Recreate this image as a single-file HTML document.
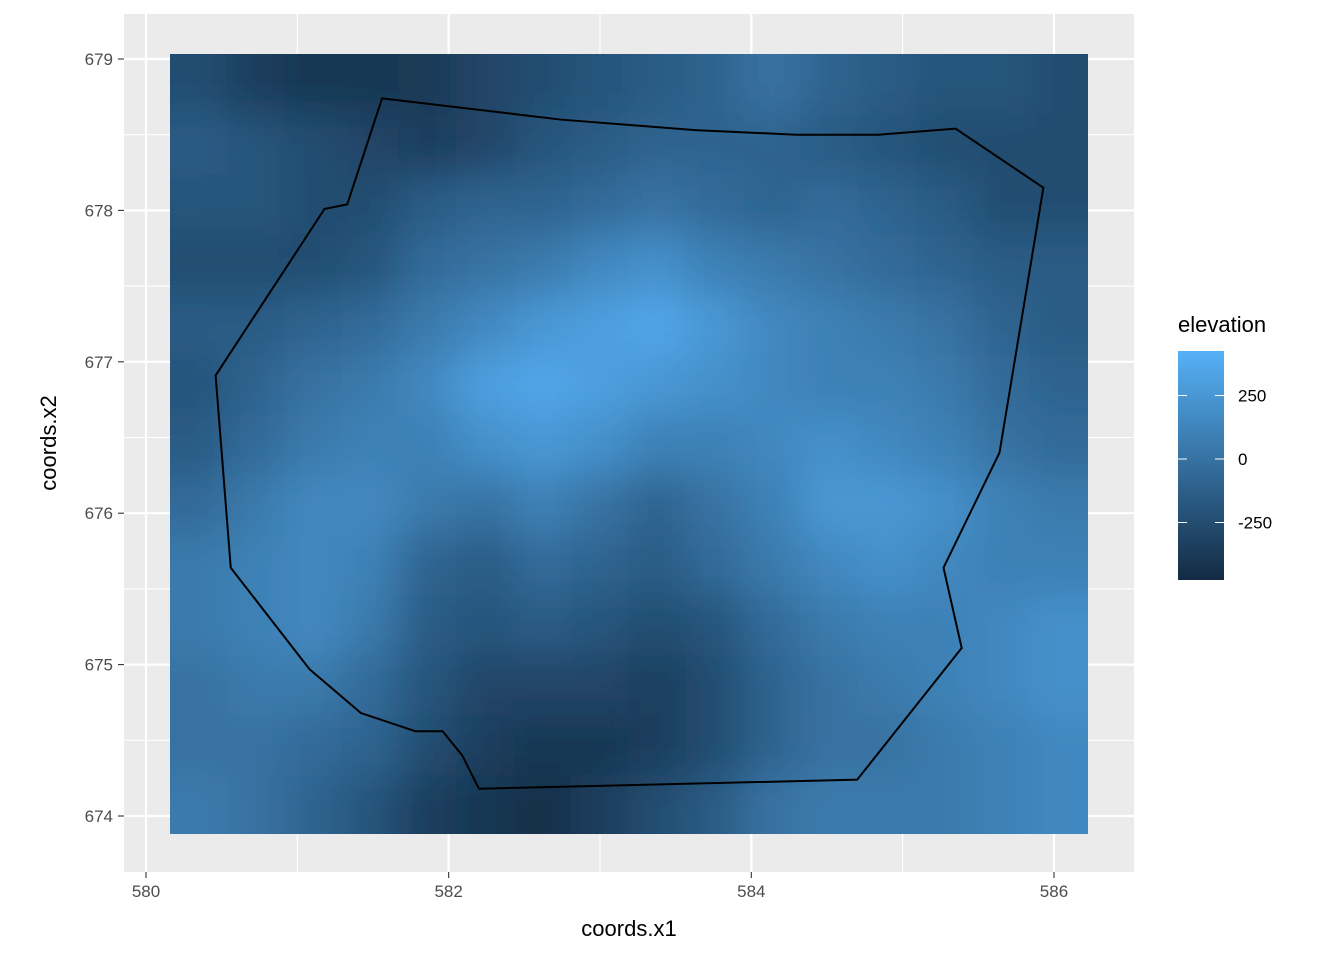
<!DOCTYPE html>
<html><head><meta charset="utf-8"><style>
body{margin:0;background:#fff;}
svg text{font-family:"Liberation Sans",sans-serif;}
</style></head><body>
<svg id="chart" width="1344" height="960" xmlns="http://www.w3.org/2000/svg">
<defs>
<linearGradient id="lg" x1="0" y1="1" x2="0" y2="0"><stop offset="0" stop-color="#132B43"/><stop offset="1" stop-color="#56B1F7"/></linearGradient>
<clipPath id="rclip"><rect x="170" y="54" width="918" height="780"/></clipPath>
<filter id="blur" filterUnits="userSpaceOnUse" x="50" y="-60" width="1160" height="1010"><feGaussianBlur stdDeviation="20"/></filter>
</defs>
<rect x="124" y="14" width="1010" height="858" fill="#EBEBEB"/>
<g id="grid"></g>
<g clip-path="url(#rclip)"><g id="raster" filter="url(#blur)"></g></g>
<path id="boundary" fill="none" stroke="#000" stroke-width="2"/>
<g id="axes"></g>
<text x="629" y="936" font-size="22" text-anchor="middle">coords.x1</text>
<text transform="translate(56,443) rotate(-90)" font-size="22" text-anchor="middle">coords.x2</text>
<g>
<text x="1178" y="332" font-size="22">elevation</text>
<rect x="1178" y="351" width="46" height="229" fill="url(#lg)"/>
<g id="legend-ticks"></g>
</g>
</svg>
<script>
const xTicks=[580,582,584,586];
const yTicks=[674,675,676,677,678,679];
const legendTicks=[250,0,-250];
const gridValues=[
[-250,-350,-400,-400,-380,-300,-250,-200,-150,-100,0,-100,-150,-200,-200,-250],
[-150,-200,-250,-300,-350,-300,-200,-150,-100,-100,-100,-150,-200,-250,-250,-250],
[-200,-200,-250,-250,-150,-100,-100,-50,0,-50,-100,-50,-100,-150,-250,-250],
[-250,-250,-250,-200,-50,0,50,150,200,100,50,0,-50,-100,-150,-150],
[-150,-150,-100,-50,50,150,250,300,350,250,150,100,50,0,-100,-150],
[-200,-100,0,50,150,300,350,300,250,200,150,100,100,50,-50,-100],
[-150,-50,50,100,100,200,250,200,100,100,150,200,150,100,0,-50],
[-50,50,150,150,50,0,100,0,-100,0,100,250,250,200,100,50],
[50,100,150,100,-100,-150,-50,-100,-150,-50,50,150,200,150,100,100],
[50,100,150,50,-150,-200,-150,-200,-250,-200,-50,50,100,100,150,200],
[0,50,50,-50,-200,-300,-300,-300,-350,-250,-100,0,50,100,150,200],
[0,0,-50,-100,-250,-350,-400,-400,-350,-250,-100,0,0,50,100,150],
[50,0,-100,-200,-350,-400,-450,-350,-250,-150,0,50,50,50,100,150]];
const boundaryX=[581.56,582.74,583.63,584.30,584.84,585.35,585.93,585.64,585.27,585.39,584.70,582.20,582.09,581.96,581.78,581.42,581.08,580.56,580.46,581.18,581.33];
const boundaryY=[678.74,678.60,678.53,678.50,678.50,678.54,678.15,676.40,675.64,675.11,674.24,674.18,674.40,674.56,674.56,674.68,674.97,675.64,676.91,678.01,678.04];
const xMin=580.16,xMax=586.22,yMin=673.87,yMax=679.03;
const vMin=-478,vMax=423;
const sx=v=>146+(v-580)*151.33;
const sy=v=>59+(679-v)*151.4;
const ly=v=>459-v*0.254;
const NS="http://www.w3.org/2000/svg";
function mk(t,a,p){const e=document.createElementNS(NS,t);for(const k in a)e.setAttribute(k,a[k]);p.appendChild(e);return e;}
function col(v){let t=Math.max(0,Math.min(1,(v-vMin)/(vMax-vMin)));
const a=[19,43,67],b=[86,177,247];return `rgb(${a.map((c,i)=>Math.round(c+(b[i]-c)*t)).join(',')})`;}
const grid=document.getElementById('grid');
for(let v=580;v<=586;v+=1){const x=sx(v);const isMaj=(v%2===0);
const l=mk('line',{x1:x,x2:x,y1:14,y2:872,stroke:'#fff','stroke-width':isMaj?2.2:1.1},grid);

}
for(let v=673.5;v<=679.5;v+=0.5){const y=sy(v);if(y<14||y>872)continue;const isMaj=Number.isInteger(v);
const l=mk('line',{x1:124,x2:1134,y1:y,y2:y,stroke:'#fff','stroke-width':isMaj?2.2:1.1},grid);

}
const raster=document.getElementById('raster');
const rows=gridValues.length,cols=gridValues[0].length;
const cw=(sx(xMax)-sx(xMin))/cols,ch=(sy(yMin)-sy(yMax))/rows;
const pad=100;
gridValues.forEach((r,i)=>r.forEach((v,j)=>{
let x=sx(xMin)+j*cw-0.5,y=sy(yMax)+i*ch-0.5,w=cw+1,h=ch+1;
if(j===0){x-=pad;w+=pad;} if(j===cols-1){w+=pad;}
if(i===0){y-=pad;h+=pad;} if(i===rows-1){h+=pad;}
const c=mk('rect',{x:x,y:y,width:w,height:h,fill:col(v)},raster);

}));
document.getElementById('boundary').setAttribute('d','M'+boundaryX.map((x,i)=>sx(x)+','+sy(boundaryY[i])).join('L')+'Z');
const axes=document.getElementById('axes');
xTicks.forEach(v=>{const x=sx(v);mk('line',{x1:x,x2:x,y1:872,y2:878,stroke:'#333','stroke-width':1.1},axes);
const t=mk('text',{x:x,y:897,'font-size':17,fill:'#4D4D4D','text-anchor':'middle'},axes);t.textContent=v;

});
yTicks.forEach(v=>{const y=sy(v);mk('line',{x1:118,x2:124,y1:y,y2:y,stroke:'#333','stroke-width':1.1},axes);
const t=mk('text',{x:113,y:y+6,'font-size':17,fill:'#4D4D4D','text-anchor':'end'},axes);t.textContent=v;

});
const lt=document.getElementById('legend-ticks');
legendTicks.forEach(v=>{const y=ly(v);
mk('line',{x1:1178,x2:1187,y1:y,y2:y,stroke:'#fff','stroke-width':1},lt);
mk('line',{x1:1215,x2:1224,y1:y,y2:y,stroke:'#fff','stroke-width':1},lt);
const t=mk('text',{x:1238,y:y+6,'font-size':17,fill:'#000'},lt);t.textContent=v;

});
</script>
</body></html>
